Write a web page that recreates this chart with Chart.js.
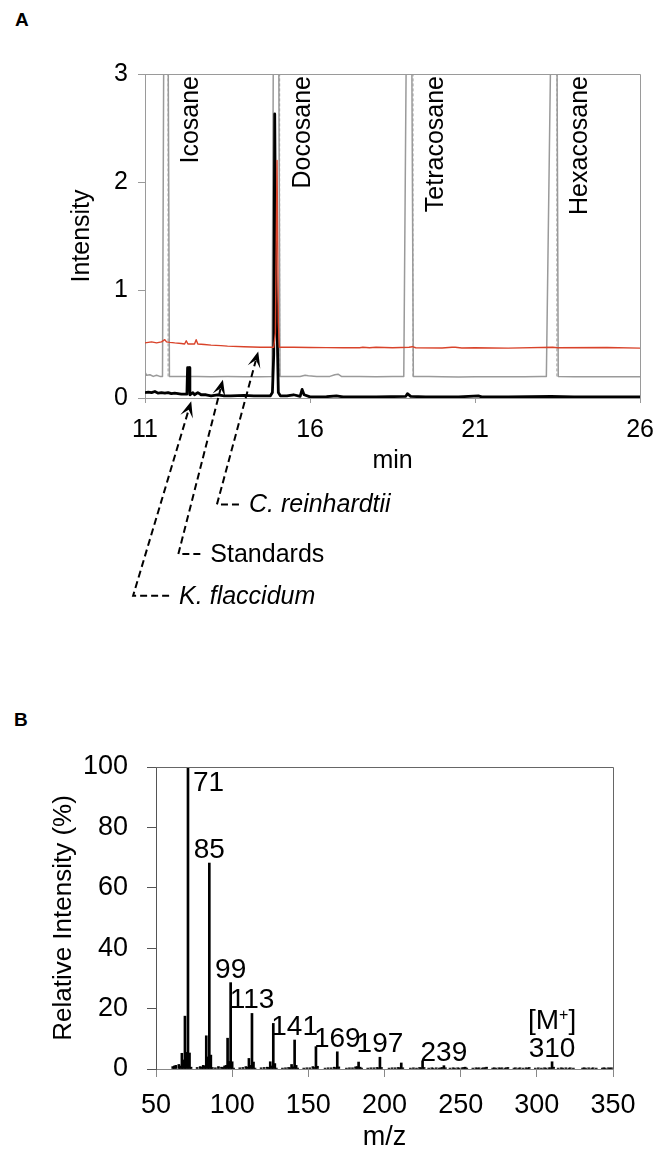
<!DOCTYPE html>
<html>
<head>
<meta charset="utf-8">
<script src="https://cdn.jsdelivr.net/npm/chart.js@4.4.0/dist/chart.umd.min.js"></script>
<style>
  body { margin: 0; background: #fff; width: 666px; height: 1156px; position: relative; overflow: hidden;
         font-family: "Liberation Sans", Arial, sans-serif; }
  .panel { position: absolute; font-weight: bold; font-size: 19px; }
  #wrapA { position: absolute; left: 0; top: 0; width: 666px; height: 650px; }
  #wrapB { position: absolute; left: 0; top: 680px; width: 666px; height: 476px; }
</style>
</head>
<body>
<div class="panel" style="left:15px;top:9px">A</div>
<div class="panel" style="left:14px;top:709px">B</div>
<div id="wrapA"><canvas id="chartA" width="666" height="650"></canvas></div>
<div id="wrapB"><canvas id="chartB" width="666" height="476"></canvas></div>
<script>
/* ---------- data: chromatogram (A) ---------- */
const timeTicks = [11, 16, 21, 26];
const intensityTicks = [0, 1, 2, 3];

// Standards (grey trace)
const stdTime = [11.00, 11.05, 11.15, 11.25, 11.35, 11.45, 11.53, 11.57, 11.70, 11.74, 11.85, 12.2, 12.6, 13.0, 13.5,
  14.0, 14.5, 14.85, 14.89, 15.05, 15.09, 15.3, 15.7, 15.85, 15.95, 16.2, 16.6, 16.75, 16.85, 16.95, 17.5, 18.0,
  18.5, 18.84, 18.92, 19.08, 19.13, 19.6, 20.0, 20.5, 21.0, 21.5, 22.0, 22.5, 23.0, 23.16, 23.30, 23.48, 23.52,
  24.0, 25.0, 26.0];
const stdIntensity = [0.24, 0.21, 0.215, 0.2, 0.21, 0.2, 0.2, 3.4, 3.4, 0.2, 0.2, 0.198, 0.2, 0.197, 0.198,
  0.196, 0.197, 0.198, 3.4, 3.4, 0.2, 0.198, 0.2, 0.21, 0.205, 0.2, 0.2, 0.215, 0.22, 0.2, 0.198, 0.197,
  0.198, 0.2, 3.4, 3.4, 0.2, 0.198, 0.197, 0.195, 0.196, 0.197, 0.196, 0.197, 0.2, 0.2, 3.4, 3.4, 0.2,
  0.197, 0.196, 0.196];

// C. reinhardtii (red trace)
const chlTime = [11.0, 11.1, 11.2, 11.35, 11.5, 11.6, 11.65, 11.75, 11.9, 12.1, 12.2, 12.25, 12.3, 12.5, 12.55,
  12.6, 12.8, 13.0, 13.3, 13.5, 14.0, 14.5, 14.9, 14.95, 15.0, 15.04, 15.07, 15.5, 16.0, 16.5, 17.0, 17.5,
  17.6, 17.8, 18.0, 18.5, 19.0, 19.1, 19.2, 20.0, 20.3, 20.4, 20.6, 21.0, 22.0, 23.35, 23.5, 25.0, 26.0];
const chlIntensity = [0.51, 0.515, 0.52, 0.51, 0.52, 0.54, 0.52, 0.515, 0.51, 0.505, 0.5, 0.53, 0.5, 0.5, 0.54,
  0.5, 0.495, 0.49, 0.485, 0.48, 0.475, 0.47, 0.47, 0.6, 2.2, 0.7, 0.47, 0.47, 0.468, 0.466, 0.465, 0.465,
  0.47, 0.465, 0.47, 0.465, 0.47, 0.475, 0.465, 0.463, 0.47, 0.47, 0.463, 0.465, 0.462, 0.47, 0.465, 0.468, 0.462];

// K. flaccidum (black trace)
const kflTime = [11.0, 11.1, 11.2, 11.3, 11.4, 11.5, 11.6, 11.7, 11.8, 11.9, 12.0, 12.1, 12.27, 12.29, 12.34,
  12.36, 12.45, 12.5, 12.6, 12.7, 12.85, 13.0, 13.2, 13.4, 13.6, 14.0, 14.3, 14.8, 14.86, 14.9, 14.93, 14.96,
  15.0, 15.04, 15.1, 15.3, 15.5, 15.7, 15.76, 15.82, 16.0, 16.5, 16.8, 17.0, 18.0, 18.9, 18.95, 19.05, 19.5,
  20.5, 21.1, 21.2, 22.0, 23.3, 24.0, 26.0];
const kflIntensity = [0.05, 0.055, 0.05, 0.06, 0.045, 0.05, 0.045, 0.05, 0.04, 0.045, 0.04, 0.035, 0.035, 0.28, 0.28,
  0.03, 0.05, 0.03, 0.05, 0.03, 0.03, 0.02, 0.03, 0.02, 0.02, 0.025, 0.02, 0.02, 0.05, 0.4, 2.63, 1.2,
  0.7, 0.05, 0.02, 0.02, 0.03, 0.015, 0.08, 0.03, 0.01, 0.012, 0.02, 0.01, 0.01, 0.015, 0.04, 0.015, 0.01,
  0.01, 0.02, 0.01, 0.01, 0.015, 0.01, 0.01];

// reference alkanes
const compoundNames = ['Icosane', 'Docosane', 'Tetracosane', 'Hexacosane'];
const compoundTimes = [11.70, 15.08, 19.12, 23.48];

/* ---------- data: mass spectrum (B) ---------- */
const mzTicks = [50, 100, 150, 200, 250, 300, 350];
const relTicks = [0, 20, 40, 60, 80, 100];
const massList = [61, 62, 63, 65, 66, 67, 68, 69, 70, 71, 72, 73,
  77, 79, 80, 81, 82, 83, 84, 85, 86, 87,
  89, 91, 93, 94, 95, 96, 97, 98, 99, 100, 101,
  105, 107, 109, 110, 111, 112, 113, 114, 115,
  119, 121, 123, 124, 125, 126, 127, 128, 129,
  133, 135, 137, 138, 139, 140, 141, 142, 143,
  147, 149, 151, 153, 154, 155, 156,
  161, 163, 165, 167, 168, 169, 170,
  175, 177, 179, 181, 182, 183, 184, 185,
  189, 191, 193, 195, 196, 197, 198,
  203, 205, 207, 209, 210, 211, 212,
  217, 219, 221, 223, 224, 225, 226,
  229, 231, 232, 234, 236, 237, 238, 239, 240,
  243, 245, 246, 248, 249, 251, 252, 253, 254,
  258, 260, 261, 262, 264, 265, 266, 267,
  271, 272, 273, 275, 276, 277, 279, 280, 281,
  285, 286, 288, 289, 291, 293, 294, 295,
  299, 301, 303, 305, 306, 308, 309, 310, 311,
  314, 316, 317, 319, 321, 322, 324,
  330, 331, 332, 334, 336, 337, 339,
  343, 344, 345, 347, 348, 349];
const relIntensity = [0.8, 1.0, 1.2, 1.5, 1.0, 5.2, 3.0, 17.5, 5.5, 100, 5.3, 0.6,
  0.5, 0.8, 0.6, 1.2, 1.0, 11.0, 4.0, 68.2, 4.6, 0.5,
  0.4, 0.8, 0.6, 0.5, 1.0, 1.2, 10.2, 2.5, 28.6, 2.4, 0.3,
  0.4, 0.5, 0.8, 0.6, 3.5, 1.2, 18.4, 2.3, 0.3,
  0.4, 0.5, 0.6, 0.5, 2.4, 1.0, 15.1, 1.8, 0.3,
  0.3, 0.4, 0.5, 0.4, 1.5, 0.7, 9.6, 1.2, 0.3,
  0.3, 0.4, 0.4, 0.8, 0.5, 7.4, 0.9,
  0.3, 0.4, 0.4, 0.6, 0.4, 5.7, 0.7,
  0.3, 0.4, 0.4, 0.7, 0.8, 2.3, 0.6, 0.3,
  0.3, 0.4, 0.4, 0.5, 0.4, 3.9, 0.5,
  0.3, 0.4, 0.4, 0.5, 0.4, 2.0, 0.4,
  0.3, 0.4, 0.3, 0.5, 0.4, 2.7, 0.5,
  0.3, 0.4, 0.3, 0.4, 0.3, 0.4, 0.5, 1.1, 0.4,
  0.3, 0.4, 0.3, 0.4, 0.3, 0.4, 0.5, 0.6, 0.3,
  0.3, 0.4, 0.3, 0.4, 0.3, 0.4, 0.4, 0.6,
  0.3, 0.4, 0.3, 0.4, 0.3, 0.4, 0.3, 0.4, 0.5,
  0.3, 0.4, 0.3, 0.4, 0.3, 0.4, 0.3, 0.5,
  0.3, 0.4, 0.3, 0.4, 0.3, 0.4, 0.4, 2.4, 0.6,
  0.3, 0.4, 0.3, 0.4, 0.3, 0.4, 0.3,
  0.3, 0.4, 0.3, 0.4, 0.3, 0.4, 0.3,
  0.3, 0.4, 0.3, 0.4, 0.3, 0.4];
const labelledMz = [71, 85, 99, 113, 141, 169, 197, 239, 310];
const molecularIon = 310;

/* ---------- shared ---------- */
const FONT = "'Liberation Sans', Arial, sans-serif";
Chart.defaults.font.family = FONT;
Chart.defaults.color = '#000';

const pts = (xs, ys) => xs.map((v, i) => ({ x: v, y: ys[i] }));

// top + right edge of the plot box
const framePlugin = {
  id: 'frame',
  afterDatasetsDraw(chart, args, opts) {
    const { ctx, chartArea: a } = chart;
    ctx.save();
    ctx.strokeStyle = opts.color;
    ctx.lineWidth = 1;
    ctx.beginPath();
    ctx.moveTo(a.left, Math.round(a.top) + 0.5);
    ctx.lineTo(Math.round(a.right) + 0.5, Math.round(a.top) + 0.5);
    ctx.lineTo(Math.round(a.right) + 0.5, a.bottom);
    ctx.stroke();
    ctx.restore();
  }
};

// vertical compound names next to the dashed markers
const compoundLabels = {
  id: 'compoundLabels',
  afterDatasetsDraw(chart) {
    const { ctx, chartArea, scales: { x } } = chart;
    ctx.save();
    ctx.font = '25px ' + FONT;
    ctx.fillStyle = '#000';
    ctx.textAlign = 'right';
    ctx.textBaseline = 'middle';
    compoundNames.forEach((name, i) => {
      ctx.save();
      ctx.translate(x.getPixelForValue(compoundTimes[i]) + 23, chartArea.top + 2);
      ctx.rotate(-Math.PI / 2);
      ctx.fillText(name, 0, 0);
      ctx.restore();
    });
    ctx.restore();
  }
};

// dashed call-outs under panel A
const callouts = [
  { text: 'K. flaccidum', tip: [12.40, -0.03], corner: [10.64, -1.83], lead: 36 },
  { text: 'Standards', tip: [13.36, 0.17], corner: [12.01, -1.445], lead: 22, upright: true },
  { text: 'C. reinhardtii', tip: [14.43, 0.43], corner: [13.18, -0.985], lead: 22 }
];
const calloutPlugin = {
  id: 'callouts',
  afterDraw(chart) {
    const { ctx, scales: { x, y } } = chart;
    ctx.save();
    callouts.forEach(c => {
      const tx = x.getPixelForValue(c.tip[0]), ty = y.getPixelForValue(c.tip[1]);
      const cx = x.getPixelForValue(c.corner[0]), cy = y.getPixelForValue(c.corner[1]);
      const ang = Math.atan2(ty - cy, tx - cx);
      const L = 16, W = 6.5;
      ctx.strokeStyle = '#000';
      ctx.lineWidth = 2;
      ctx.setLineDash([7, 4]);
      ctx.beginPath();
      ctx.moveTo(cx + c.lead, cy);
      ctx.lineTo(cx, cy);
      ctx.lineTo(tx - Math.cos(ang) * L * 0.6, ty - Math.sin(ang) * L * 0.6);
      ctx.stroke();
      ctx.setLineDash([]);
      // arrow head
      const ux = Math.cos(ang), uy = Math.sin(ang);
      ctx.fillStyle = '#000';
      ctx.beginPath();
      ctx.moveTo(tx, ty);
      ctx.lineTo(tx - ux * L - uy * W, ty - uy * L + ux * W);
      ctx.lineTo(tx - ux * L * 0.55, ty - uy * L * 0.55);
      ctx.lineTo(tx - ux * L + uy * W, ty - uy * L - ux * W);
      ctx.closePath();
      ctx.fill();
      ctx.font = (c.upright ? '' : 'italic ') + '25px ' + FONT;
      ctx.textAlign = 'left';
      ctx.textBaseline = 'middle';
      ctx.fillText(c.text, cx + c.lead + 10, cy + 1);
    });
    ctx.restore();
  }
};

// m/z labels above the fragment peaks
const peakLabels = {
  id: 'peakLabels',
  afterDatasetsDraw(chart) {
    const { ctx, scales: { x, y } } = chart;
    ctx.save();
    ctx.fillStyle = '#000';
    ctx.font = '28px ' + FONT;
    labelledMz.forEach(mz => {
      const v = relIntensity[massList.indexOf(mz)];
      const px = x.getPixelForValue(mz), top = y.getPixelForValue(v);
      if (v > 95) {
        ctx.textAlign = 'left'; ctx.textBaseline = 'middle';
        ctx.fillText(String(mz), px + 5, top + 16);
      } else {
        ctx.textAlign = 'center'; ctx.textBaseline = 'alphabetic';
        ctx.fillText(String(mz), px, top - 5);
      }
    });
    // [M+] tag over the molecular ion
    const v = relIntensity[massList.indexOf(molecularIon)];
    const px = x.getPixelForValue(molecularIon);
    const base = y.getPixelForValue(v) - 5 - 28;
    ctx.textAlign = 'left'; ctx.textBaseline = 'alphabetic';
    const big = '28px ' + FONT, small = '16px ' + FONT;
    ctx.font = big; const w1 = ctx.measureText('[M').width, w3 = ctx.measureText(']').width;
    ctx.font = small; const w2 = ctx.measureText('+').width;
    let sx = px - (w1 + w2 + w3) / 2;
    ctx.font = big; ctx.fillText('[M', sx, base);
    ctx.font = small; ctx.fillText('+', sx + w1, base - 9);
    ctx.font = big; ctx.fillText(']', sx + w1 + w2, base);
    ctx.restore();
  }
};

/* ---------- chart A ---------- */
const markerSets = compoundTimes.map(t => ({
  type: 'line',
  data: [{ x: t, y: 0.2 }, { x: t, y: 3 }],
  borderColor: '#999', borderWidth: 1, borderDash: [3, 2],
  pointRadius: 0, order: 4
}));

new Chart(document.getElementById('chartA'), {
  type: 'line',
  data: {
    datasets: [
      { label: 'K. flaccidum', data: pts(kflTime, kflIntensity), borderColor: '#000', borderWidth: 2.8, order: 1 },
      { label: 'C. reinhardtii', data: pts(chlTime, chlIntensity), borderColor: '#d9432a', borderWidth: 1.4, order: 0 },
      { label: 'Standards', data: pts(stdTime, stdIntensity), borderColor: '#9a9a9a', borderWidth: 1.5, order: 2 },
      ...markerSets
    ]
  },
  options: {
    responsive: false,
    animation: false,
    devicePixelRatio: 1,
    events: [],
    elements: { point: { radius: 0 }, line: { tension: 0, borderJoinStyle: 'round' } },
    layout: { padding: { top: 74, right: 19, left: 0, bottom: 173 } },
    plugins: { legend: { display: false }, tooltip: { enabled: false }, frame: { color: '#9a9a9a' } },
    scales: {
      x: {
        type: 'linear', min: 11, max: 26,
        afterBuildTicks: s => { s.ticks = timeTicks.map(v => ({ value: v })); },
        ticks: { padding: 12, font: { size: 25 }, color: '#000' },
        grid: { drawOnChartArea: false, tickLength: 5, color: '#9a9a9a' },
        border: { color: '#9a9a9a' },
        title: { display: true, text: 'min', font: { size: 25 }, padding: { top: 0, bottom: 1 } },
        afterFit: s => { s.height = 79; }
      },
      y: {
        min: 0, max: 3,
        afterBuildTicks: s => { s.ticks = intensityTicks.map(v => ({ value: v })); },
        ticks: { padding: 10, font: { size: 25 }, color: '#000' },
        grid: { drawOnChartArea: false, tickLength: 7, color: '#9a9a9a' },
        border: { color: '#9a9a9a' },
        title: { display: true, text: 'Intensity', font: { size: 25 }, padding: { top: 67, bottom: 0 } },
        afterFit: s => { s.width = 145; }
      }
    }
  },
  plugins: [framePlugin, compoundLabels, calloutPlugin]
});

/* ---------- chart B ---------- */
new Chart(document.getElementById('chartB'), {
  type: 'bar',
  data: {
    datasets: [{
      label: 'Relative Intensity',
      data: pts(massList, relIntensity),
      backgroundColor: '#000',
      borderWidth: 0,
      barThickness: 2
    }]
  },
  options: {
    responsive: false,
    animation: false,
    devicePixelRatio: 1,
    events: [],
    layout: { padding: { top: 87, right: 53, left: 0, bottom: 2 } },
    plugins: { legend: { display: false }, tooltip: { enabled: false }, frame: { color: '#666' } },
    scales: {
      x: {
        type: 'linear', min: 50, max: 350, offset: false,
        afterBuildTicks: s => { s.ticks = mzTicks.map(v => ({ value: v })); },
        ticks: { padding: 12, font: { size: 27 }, color: '#000' },
        grid: { drawOnChartArea: false, offset: false, tickLength: 8, color: '#888' },
        border: { color: '#888' },
        title: { display: true, text: 'm/z', font: { size: 27 }, padding: { top: 0, bottom: 0 } },
        afterFit: s => { s.height = 85; }
      },
      y: {
        min: 0, max: 100,
        afterBuildTicks: s => { s.ticks = relTicks.map(v => ({ value: v })); },
        ticks: { padding: 19, font: { size: 27 }, color: '#000' },
        grid: { drawOnChartArea: false, tickLength: 9, color: '#555' },
        border: { color: '#555' },
        title: { display: true, text: 'Relative Intensity (%)', font: { size: 26 }, padding: { top: 48, bottom: 0 } },
        afterFit: s => { s.width = 156; }
      }
    }
  },
  plugins: [framePlugin, peakLabels]
});
</script>
</body>
</html>
